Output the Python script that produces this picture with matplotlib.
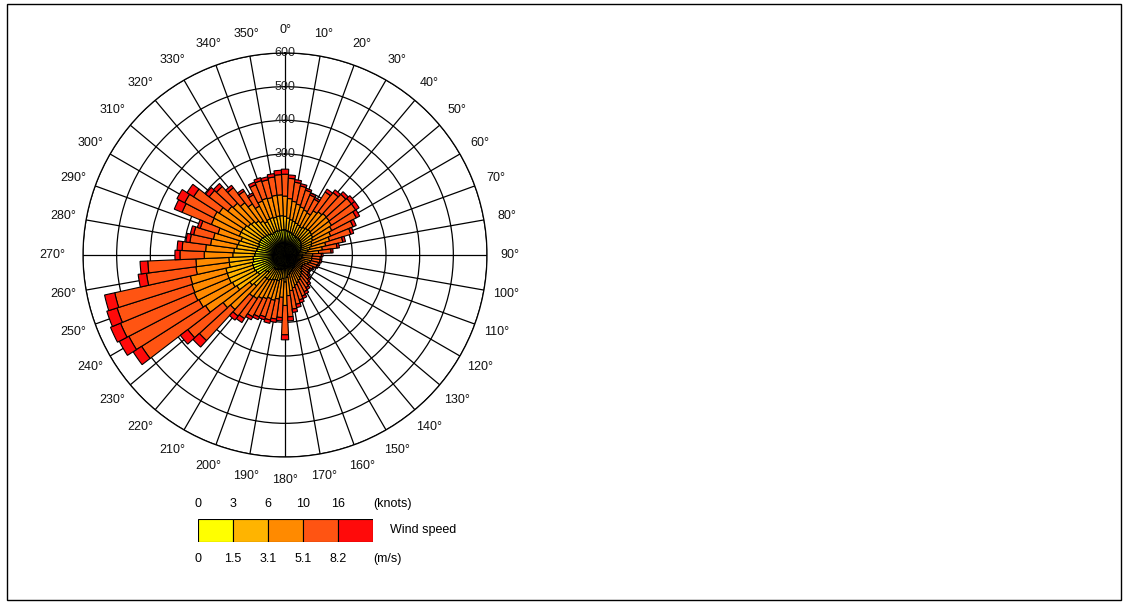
import numpy as np
import matplotlib
matplotlib.use('Agg')
import matplotlib.pyplot as plt
from matplotlib.patches import Rectangle

plt.rcParams['font.family'] = ['Liberation Sans', 'DejaVu Sans']

# wind direction sectors (5 degree bins), counts per speed class
directions = list(range(0, 360, 5))

speed_0_15 = [75, 72, 70, 68, 66, 64, 62, 62, 62, 62, 60, 58, 55, 52, 50, 46, 42, 38,
              32, 30, 30, 28, 26, 22, 20, 20, 20, 22, 24, 25, 26, 28, 30, 32, 34, 38,
              45, 40, 42, 44, 44, 46, 48, 50, 50, 70, 74, 95, 98, 100, 100, 100, 95, 95,
              90, 88, 85, 84, 82, 85, 85, 84, 82, 80, 78, 75, 72, 74, 75, 74, 75, 75]
speed_15_31 = [40, 38, 36, 35, 34, 33, 32, 36, 38, 40, 40, 40, 38, 35, 33, 30, 27, 24,
               20, 20, 20, 19, 18, 16, 15, 15, 16, 17, 18, 19, 20, 21, 22, 23, 25, 28,
               35, 30, 32, 34, 34, 35, 36, 38, 38, 55, 58, 75, 78, 80, 80, 80, 72, 72,
               65, 64, 60, 58, 55, 62, 62, 60, 56, 55, 50, 45, 40, 42, 42, 41, 42, 42]
speed_31_51 = [60, 58, 55, 52, 50, 48, 47, 58, 62, 65, 66, 66, 64, 60, 56, 48, 43, 38,
               30, 30, 30, 30, 29, 27, 25, 25, 27, 30, 32, 35, 38, 40, 42, 45, 48, 55,
               70, 56, 58, 60, 58, 60, 62, 66, 68, 95, 100, 110, 112, 112, 110, 108, 100, 98,
               85, 84, 78, 76, 72, 90, 92, 88, 76, 74, 68, 60, 52, 58, 60, 60, 62, 62]
speed_51_82 = [65, 60, 57, 55, 52, 48, 46, 66, 72, 78, 83, 85, 82, 72, 66, 52, 44, 37,
               26, 25, 25, 25, 26, 25, 24, 24, 26, 29, 32, 36, 39, 43, 46, 50, 55, 63,
               87, 60, 60, 60, 57, 58, 61, 70, 73, 125, 132, 225, 235, 237, 233, 230, 148, 143,
               72, 70, 62, 60, 55, 94, 97, 90, 70, 67, 56, 45, 38, 52, 55, 54, 55, 60]
speed_82_up = [15, 10, 8, 7, 6, 6, 6, 10, 10, 10, 12, 12, 11, 10, 9, 8, 7, 6,
               5, 5, 5, 5, 5, 5, 5, 5, 6, 6, 7, 7, 8, 8, 9, 10, 10, 12,
               15, 10, 10, 10, 9, 9, 10, 14, 15, 26, 28, 30, 32, 32, 32, 31, 25, 23,
               15, 15, 12, 10, 9, 25, 26, 23, 13, 12, 9, 7, 6, 9, 9, 9, 10, 13]

speed_bins = [speed_0_15, speed_15_31, speed_31_51, speed_51_82, speed_82_up]
bin_colors = ['#FFFF00', '#FFB400', '#FF8A00', '#FF5412', '#FF0A0A']
knot_labels = ['0', '3', '6', '10', '16']
ms_labels = ['0', '1.5', '3.1', '5.1', '8.2']
ring_values = [100, 200, 300, 400, 500, 600]


def draw_rose(ax):
    theta = np.radians(directions)
    bottom = np.zeros(len(directions))
    for values, col in zip(speed_bins, bin_colors):
        ax.bar(theta, values, width=np.radians(5), bottom=bottom, color=col,
               edgecolor='black', linewidth=0.8, align='center', zorder=3)
        bottom += np.array(values)

    ax.set_theta_zero_location('N')
    ax.set_theta_direction(-1)
    ax.set_ylim(0, 600)
    ax.set_axisbelow(True)

    ax.set_xticks(np.radians(range(0, 360, 10)))
    ax.set_xticklabels([])
    ax.set_yticks(ring_values)
    ax.set_yticklabels([])
    ax.grid(True, color='black', linewidth=0.9)
    ax.spines['polar'].set_color('black')
    ax.spines['polar'].set_linewidth(0.9)

    # direction labels around the outside
    for d in range(0, 360, 10):
        r = 690 if d == 270 else 668
        ax.text(np.radians(d), r, f'{d}\u00b0', ha='center', va='center',
                fontsize=9, color='#111111', clip_on=False)
    # radial labels sit on the north spoke, under the bars
    for r in ring_values:
        ax.text(0, r, str(r), ha='center', va='center', fontsize=9,
                color='#222222', zorder=1)


def draw_legend(fig):
    lax = fig.add_axes([198 / 1128, 1 - 542 / 604, 175 / 1128, 23 / 604])
    lax.bar(np.arange(5), [1] * 5, width=1, color=bin_colors,
            edgecolor='black', linewidth=0.8)
    lax.set_xlim(-0.5, 4.5)
    lax.set_ylim(0, 1)
    lax.axis('off')
    for i in range(5):
        lax.text(i - 0.5, 1.65, knot_labels[i], ha='center', va='center', fontsize=9)
        lax.text(i - 0.5, -0.72, ms_labels[i], ha='center', va='center', fontsize=9)
    lax.text(4.52, 1.65, '(knots)', ha='left', va='center', fontsize=9)
    lax.text(4.52, -0.72, '(m/s)', ha='left', va='center', fontsize=9)
    lax.text(5.0, 0.5, 'Wind speed', ha='left', va='center', fontsize=9)


def main():
    fig = plt.figure(figsize=(11.28, 6.04), dpi=100)
    fig.patch.set_facecolor('white')
    ax = fig.add_axes([83 / 1128, 1 - 457 / 604, 404 / 1128, 404 / 604], projection='polar')
    draw_rose(ax)
    draw_legend(fig)
    # thin frame around the whole picture
    fig.patches.append(Rectangle((7 / 1128, 4 / 604), 1114 / 1128, 596 / 604,
                                 transform=fig.transFigure, fill=False,
                                 edgecolor='black', linewidth=1))
    fig.savefig('out.png', dpi=100)


if __name__ == "__main__":
    main()
